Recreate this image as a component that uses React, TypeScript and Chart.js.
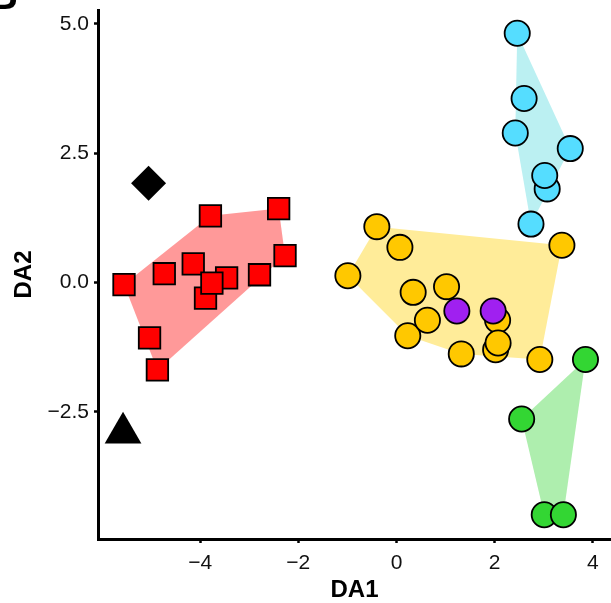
import React, { useEffect, useRef } from "react";
import { Chart, registerables } from "chart.js";

Chart.register(...registerables);

// Axis definitions
const X_TICKS = [-4, -2, 0, 2, 4];
const X_TICK_LABELS = ["\u22124", "\u22122", "0", "2", "4"];
const Y_TICKS = [-2.5, 0, 2.5, 5];
const Y_TICK_LABELS = ["\u22122.5", "0.0", "2.5", "5.0"];
const X_MIN = -6.08;
const X_MAX = 4.37;
const Y_MIN = -4.96;
const Y_MAX = 5.27;
const X_TITLE = "DA1";
const Y_TITLE = "DA2";
const PANEL_TAG = "B";

// Red group (squares)
const redX = [-5.55, -4.73, -4.14, -3.79, -2.4, -2.27, -2.79, -5.03, -4.87, -3.89, -3.46, -3.76];
const redY = [-0.04, 0.17, 0.36, 1.29, 1.43, 0.52, 0.15, -1.07, -1.69, -0.3, 0.09, -0.01];

// Yellow group (circles)
const yellowX = [-0.4, 0.07, -0.99, 0.34, 1.02, 0.23, 0.63, 1.32, 2.06, 2.02, 2.07, 2.92, 3.37];
const yellowY = [1.08, 0.68, 0.13, -0.19, -0.08, -1.03, -0.73, -1.38, -0.73, -1.3, -1.17, -1.49, 0.72];

// Cyan group (circles)
const cyanX = [2.46, 2.6, 2.42, 3.54, 3.07, 3.02, 2.74];
const cyanY = [4.82, 3.56, 2.89, 2.59, 1.81, 2.07, 1.13];

// Green group (circles)
const greenX = [2.55, 3.85, 3.01, 3.4];
const greenY = [-2.64, -1.49, -4.49, -4.49];

// Purple group (circles)
const purpleX = [1.23, 1.97];
const purpleY = [-0.55, -0.55];

// Single reference markers
const diamondX = [-5.05];
const diamondY = [1.92];
const triangleX = [-5.57];
const triangleY = [-2.91];

type P = { x: number; y: number };

const toPoints = (xs: number[], ys: number[]): P[] => xs.map((x, i) => ({ x, y: ys[i] }));

function convexHull(pts: P[]): P[] {
  const p = [...pts].sort((a, b) => (a.x === b.x ? a.y - b.y : a.x - b.x));
  const cross = (o: P, a: P, b: P) => (a.x - o.x) * (b.y - o.y) - (a.y - o.y) * (b.x - o.x);
  const lower: P[] = [];
  for (const q of p) {
    while (lower.length >= 2 && cross(lower[lower.length - 2], lower[lower.length - 1], q) <= 0) lower.pop();
    lower.push(q);
  }
  const upper: P[] = [];
  for (let i = p.length - 1; i >= 0; i--) {
    const q = p[i];
    while (upper.length >= 2 && cross(upper[upper.length - 2], upper[upper.length - 1], q) <= 0) upper.pop();
    upper.push(q);
  }
  upper.pop();
  lower.pop();
  const hull = lower.concat(upper);
  return hull.concat([hull[0]]);
}

const hullDataset = (xs: number[], ys: number[], color: string) => ({
  type: "scatter" as const,
  data: convexHull(toPoints(xs, ys)),
  showLine: true,
  fill: "shape",
  backgroundColor: color,
  borderColor: "rgba(0,0,0,0)",
  borderWidth: 0,
  pointRadius: 0,
  tension: 0,
  order: 10,
});

const pointDataset = (
  xs: number[],
  ys: number[],
  color: string,
  style: string,
  radius: number,
  border: number,
  order: number
) => ({
  type: "scatter" as const,
  data: toPoints(xs, ys),
  pointStyle: style,
  pointRadius: radius,
  pointBackgroundColor: color,
  pointBorderColor: "#000000",
  pointBorderWidth: border,
  backgroundColor: color,
  borderColor: "#000000",
  showLine: false,
  order,
});

const FONT_FAMILY = "'Liberation Sans', Arial, Helvetica, sans-serif";
const TICK_FONT = { family: FONT_FAMILY, size: 21 };
const TITLE_FONT = { family: FONT_FAMILY, size: 24, weight: "bold" as const, lineHeight: 1.05 };

const panelTagPlugin = {
  id: "panelTag",
  afterDraw(chart: any) {
    const ctx = chart.ctx;
    ctx.save();
    ctx.fillStyle = "#000";
    ctx.font = `bold 40px ${FONT_FAMILY}`;
    ctx.textAlign = "right";
    ctx.textBaseline = "alphabetic";
    ctx.fillText(PANEL_TAG, 18, 9);
    ctx.restore();
  },
};

const resetPadding = (s: any) => {
  s.paddingLeft = 0;
  s.paddingRight = 0;
  s.paddingTop = 0;
  s.paddingBottom = 0;
};

export default function App() {
  const canvasRef = useRef<HTMLCanvasElement | null>(null);

  useEffect(() => {
    if (!canvasRef.current) return;
    const chart = new Chart(canvasRef.current, {
      type: "scatter",
      data: {
        datasets: [
          pointDataset(purpleX, purpleY, "#A020F0", "circle", 12.6, 1.8, 0),
          pointDataset(yellowX, yellowY, "#FFC800", "circle", 12.6, 1.8, 1),
          pointDataset(cyanX, cyanY, "#55DDFF", "circle", 12.6, 1.8, 1),
          pointDataset(greenX, greenY, "#33D633", "circle", 12.6, 1.8, 1),
          pointDataset(redX, redY, "#FF0000", "rect", 15.2, 1.8, 1),
          pointDataset(diamondX, diamondY, "#000000", "rectRot", 17.5, 0, 1),
          pointDataset(triangleX, triangleY, "#000000", "triangle", 21.2, 0, 1),
          hullDataset(redX, redY, "#FF9999"),
          hullDataset(yellowX, yellowY, "#FFEC99"),
          hullDataset(cyanX, cyanY, "#BBF0F2"),
          hullDataset(greenX, greenY, "#AEEEAE"),
        ] as any,
      },
      options: {
        animation: false,
        responsive: true,
        maintainAspectRatio: false,
        events: [],
        layout: { autoPadding: false, padding: { top: 10, right: 0, left: 0, bottom: 0 } },
        plugins: {
          legend: { display: false },
          tooltip: { enabled: false },
        },
        scales: {
          x: {
            type: "linear",
            min: X_MIN,
            max: X_MAX,
            afterBuildTicks: (s: any) => {
              s.ticks = X_TICKS.map((value) => ({ value }));
            },
            afterFit: (s: any) => {
              s.height = 64;
              resetPadding(s);
            },
            ticks: {
              color: "#111",
              font: TICK_FONT,
              padding: 8,
              maxRotation: 0,
              autoSkip: false,
              callback: (v: any) => X_TICK_LABELS[X_TICKS.indexOf(Number(v))] ?? "",
            },
            grid: {
              display: true,
              drawOnChartArea: false,
              drawTicks: true,
              tickLength: 4,
              tickWidth: 2.5,
              tickColor: "#000",
            },
            border: { display: true, color: "#000", width: 3 },
            title: {
              display: true,
              text: X_TITLE,
              color: "#000",
              font: TITLE_FONT,
              padding: { top: 0, bottom: 0 },
            },
          },
          y: {
            type: "linear",
            min: Y_MIN,
            max: Y_MAX,
            afterBuildTicks: (s: any) => {
              s.ticks = Y_TICKS.map((value) => ({ value }));
            },
            afterFit: (s: any) => {
              s.width = 98;
              resetPadding(s);
            },
            ticks: {
              color: "#111",
              font: TICK_FONT,
              padding: 5,
              autoSkip: false,
              callback: (v: any) => Y_TICK_LABELS[Y_TICKS.indexOf(Number(v))] ?? "",
            },
            grid: {
              display: true,
              drawOnChartArea: false,
              drawTicks: true,
              tickLength: 4,
              tickWidth: 2.5,
              tickColor: "#000",
            },
            border: { display: true, color: "#000", width: 3 },
            title: {
              display: true,
              text: Y_TITLE,
              color: "#000",
              font: TITLE_FONT,
              padding: { top: 11.8, bottom: 0 },
            },
          },
        },
      } as any,
      plugins: [panelTagPlugin],
    });
    return () => chart.destroy();
  }, []);

  return (
    <div style={{ position: "fixed", left: 0, top: 0, width: 611, height: 603, background: "#fff" }}>
      <canvas ref={canvasRef} />
    </div>
  );
}
